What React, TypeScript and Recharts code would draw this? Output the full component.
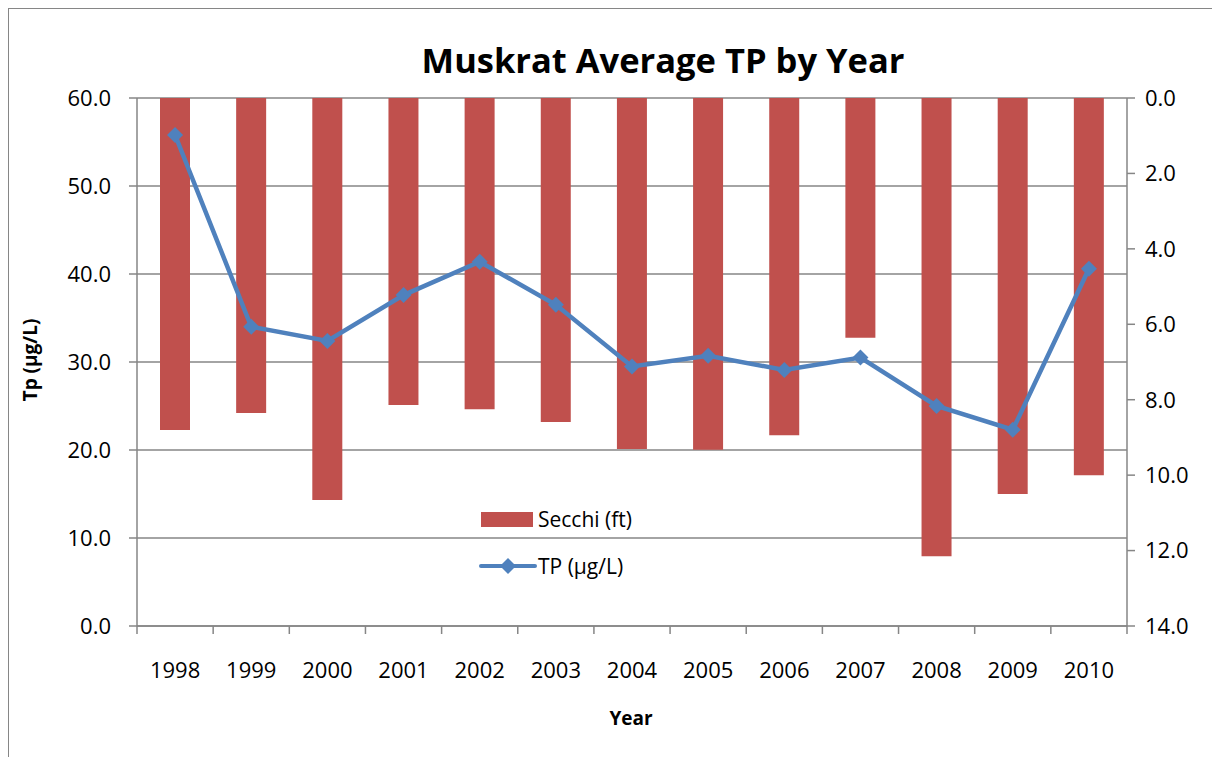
import { ComposedChart, Bar, Line, XAxis, YAxis, CartesianGrid } from "recharts";

const years = ["1998", "1999", "2000", "2001", "2002", "2003", "2004", "2005", "2006", "2007", "2008", "2009", "2010"];
const secchiFt = [8.8, 8.35, 10.66, 8.14, 8.25, 8.59, 9.31, 9.33, 8.94, 6.36, 12.15, 10.5, 10.0];
const tpUgL = [55.8, 34.0, 32.4, 37.6, 41.4, 36.5, 29.5, 30.7, 29.1, 30.5, 25.0, 22.3, 40.6];
const tpTicks = [0, 10, 20, 30, 40, 50, 60];
const secchiTicks = [0, 2, 4, 6, 8, 10, 12, 14];

const data = years.map((year, i) => ({ year, secchi: secchiFt[i], tp: tpUgL[i] }));

const W = 1212;
const H = 749;
const PLOT_LEFT = 129;
const PLOT_RIGHT = 1119;
const PLOT_TOP = 90;
const PLOT_BOTTOM = 618;
const halfCat = (PLOT_RIGHT - PLOT_LEFT) / years.length / 2;

const AXIS = "#868686";
const FONT = "'Open Sans', sans-serif";
const BAR = "#C0504D";
const LINE = "#4F81BD";
const TICK_FONT = 22;

const Diamond = (props: any) => {
  const { cx, cy } = props;
  if (cx == null || cy == null) return null;
  const r = 8;
  return <path d={`M${cx} ${cy - r}L${cx + r} ${cy}L${cx} ${cy + r}L${cx - r} ${cy}Z`} fill={LINE} />;
};

const YearTick = (props: any) => {
  const { x, y, payload, index } = props;
  return (
    <g>
      <line x1={x - halfCat} y1={y} x2={x - halfCat} y2={y + 8} stroke={AXIS} strokeWidth={1.5} />
      {index === years.length - 1 && (
        <line x1={x + halfCat} y1={y} x2={x + halfCat} y2={y + 8} stroke={AXIS} strokeWidth={1.5} />
      )}
      <text x={x} y={y + 52} textAnchor="middle" fontSize={TICK_FONT} fontFamily={FONT} fill="#000">
        {payload.value}
      </text>
    </g>
  );
};

// legend sits inside the plot, like the original
const LegendBox = () => (
  <div style={{ position: "absolute", left: 479 - 8, top: 500 - 8, width: 240, fontSize: 21, color: "#000" }}>
    <div style={{ display: "flex", alignItems: "center", height: 38 }}>
      <div style={{ width: 52, height: 15, background: BAR, marginLeft: 2, marginRight: 5 }} />
      <span>Secchi (ft)</span>
    </div>
    <div style={{ display: "flex", alignItems: "center", height: 38, marginTop: 9 }}>
      <svg width={58} height={20} style={{ marginRight: 1 }}>
        <line x1={2} y1={10} x2={56} y2={10} stroke={LINE} strokeWidth={4} strokeLinecap="round" />
        <path d="M29 2L37 10L29 18L21 10Z" fill={LINE} />
      </svg>
      <span>TP (µg/L)</span>
    </div>
  </div>
);

export default function App() {
  return (
    <div style={{ position: "relative", width: W, height: H, fontFamily: FONT }}>
      <div
        style={{
          position: "absolute",
          left: 0,
          top: 0,
          width: W + 20,
          height: H + 20,
          border: `1.5px solid ${AXIS}`,
          boxSizing: "border-box",
        }}
      />
      <div
        style={{
          position: "absolute",
          left: 663 - 8 - 300,
          width: 600,
          top: 28,
          textAlign: "center",
          fontSize: 34.5,
          fontWeight: 700,
          color: "#000",
        }}
      >
        Muskrat Average TP by Year
      </div>
      <div
        style={{
          position: "absolute",
          left: 22 - 100,
          top: 354 - 15,
          width: 200,
          textAlign: "center",
          fontSize: 19,
          fontWeight: 700,
          transform: "rotate(-90deg)",
        }}
      >
        Tp (µg/L)
      </div>
      <div
        style={{
          position: "absolute",
          left: 623 - 100,
          top: 697,
          width: 200,
          textAlign: "center",
          fontSize: 19,
          fontWeight: 700,
        }}
      >
        Year
      </div>
      <ComposedChart
        width={W}
        height={H}
        data={data}
        margin={{ top: PLOT_TOP, right: W - PLOT_RIGHT - 90, bottom: H - PLOT_BOTTOM - 60, left: PLOT_LEFT - 90 }}
        style={{ position: "absolute", left: 0, top: 0 }}
      >
        <CartesianGrid vertical={false} stroke={AXIS} strokeWidth={1.5} yAxisId="tp" />
        <XAxis
          dataKey="year"
          tickLine={false}
          tickSize={0}
          tickMargin={0}
          height={60}
          stroke={AXIS}
          strokeWidth={1.5}
          tick={<YearTick />}
          interval={0}
        />
        <YAxis
          yAxisId="tp"
          orientation="left"
          domain={[0, 60]}
          ticks={tpTicks}
          width={90}
          tickFormatter={(v: number) => v.toFixed(1)}
          stroke={AXIS}
          strokeWidth={1.5}
          tickSize={8}
          tickMargin={18}
          tick={{ fill: "#000", fontSize: TICK_FONT, fontFamily: FONT }}
        />
        <YAxis
          yAxisId="secchi"
          orientation="right"
          reversed
          domain={[0, 14]}
          ticks={secchiTicks}
          width={90}
          tickFormatter={(v: number) => v.toFixed(1)}
          stroke={AXIS}
          strokeWidth={1.5}
          tickSize={8}
          tickMargin={10}
          tick={{ fill: "#000", fontSize: TICK_FONT, fontFamily: FONT }}
        />
        <Bar yAxisId="secchi" dataKey="secchi" name="Secchi (ft)" fill={BAR} barSize={30} isAnimationActive={false} />
        <Line
          yAxisId="tp"
          dataKey="tp"
          name="TP (µg/L)"
          type="linear"
          stroke={LINE}
          strokeWidth={4.5}
          dot={<Diamond />}
          activeDot={false}
          isAnimationActive={false}
        />
      </ComposedChart>
      <LegendBox />
    </div>
  );
}
